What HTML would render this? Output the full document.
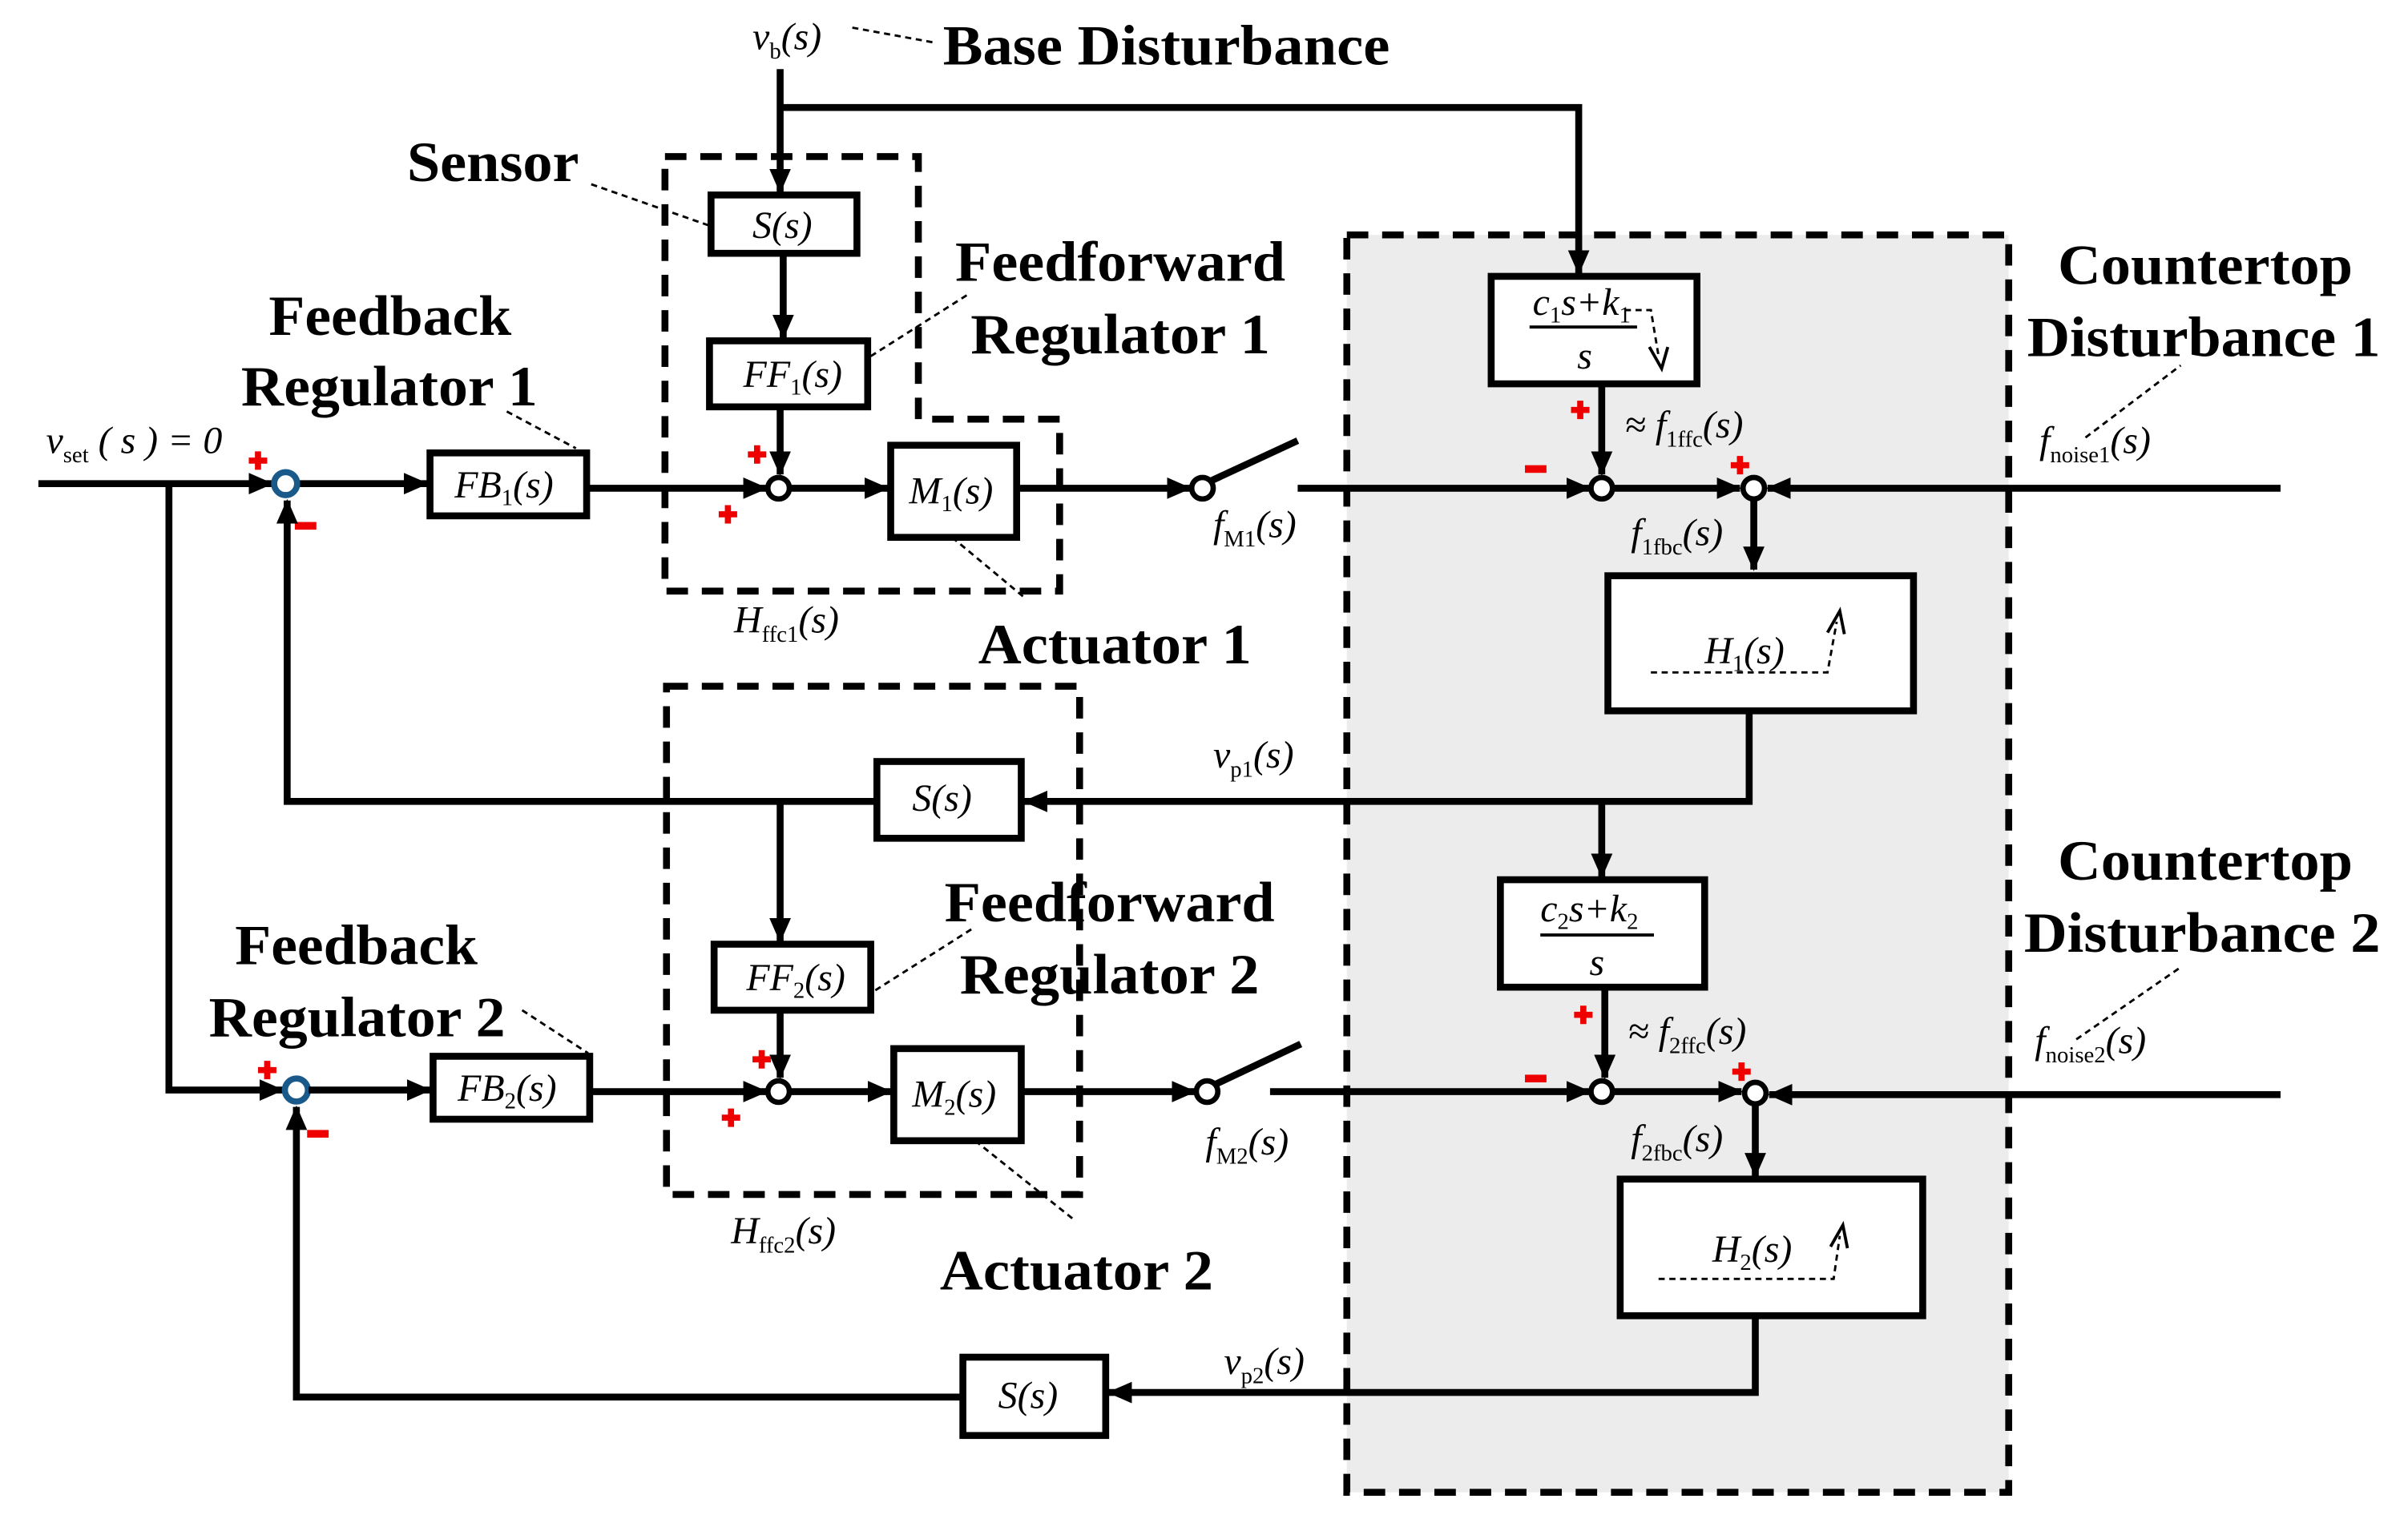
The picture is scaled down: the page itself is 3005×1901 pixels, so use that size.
<!DOCTYPE html>
<html><head><meta charset="utf-8"><style>
html,body{margin:0;padding:0;background:#fff;}
svg{display:block;}
.big{font-family:"Liberation Serif",serif;font-weight:bold;font-size:37px;}
.m{font-family:"Liberation Serif",serif;font-style:italic;font-size:25px;}
.sub{font-size:15px;font-style:normal;}
.ln{stroke:#000;stroke-width:4.5;fill:none;}
.bx{stroke:#000;stroke-width:4.5;fill:#fff;}
.dsh{stroke:#000;stroke-width:4.5;fill:none;stroke-dasharray:14 9;}
.ld{stroke:#000;stroke-width:1.5;fill:none;stroke-dasharray:4 3;}
.sum{stroke:#000;stroke-width:3.5;fill:#fff;}
.r{fill:#e00;}
</style></head><body>
<svg width="3005" height="1901" viewBox="0 0 1568 992" preserveAspectRatio="none" xmlns="http://www.w3.org/2000/svg">
<defs>
<marker id="a" markerUnits="userSpaceOnUse" markerWidth="16" markerHeight="14" refX="15" refY="7" orient="auto">
<path d="M0,0 L16,7 L0,14 Z" fill="#000"/></marker>
</defs>
<rect x="877" y="153" width="431" height="819" fill="#ececec"/>
<rect x="877" y="153" width="431" height="819" class="dsh"/>
<path d="M433,102 L598,102 L598,273 L690,273 L690,385 L433,385 Z" class="dsh"/>
<rect x="434" y="447" width="269" height="331" class="dsh"/>

<text x="490" y="32" class="m">v<tspan class="sub" dy="6">b</tspan><tspan dy="-6">(s)</tspan></text>
<path d="M555,18 L610,28" class="ld"/>
<text x="614" y="42" class="big" textLength="291" lengthAdjust="spacingAndGlyphs">Base Disturbance</text>
<path d="M508,45 L508,125" class="ln" marker-end="url(#a)"/>
<path d="M508,70 L1028,70 L1028,178" class="ln" marker-end="url(#a)"/>
<text x="265" y="118" class="big" textLength="112" lengthAdjust="spacingAndGlyphs">Sensor</text>
<path d="M385,120 L462,147" class="ld"/>
<rect x="463" y="127" width="95" height="38" class="bx"/>
<text x="490" y="155" class="m">S(s)</text>
<path d="M510,165 L510,220" class="ln" marker-end="url(#a)"/>
<rect x="462" y="222" width="103" height="43" class="bx"/>
<text x="484" y="252" class="m">FF<tspan class="sub" dy="5">1</tspan><tspan dy="-5">(s)</tspan></text>
<path d="M567,232 L630,192" class="ld"/>
<text x="622" y="183" class="big" textLength="215" lengthAdjust="spacingAndGlyphs">Feedforward</text>
<text x="632" y="230" class="big" textLength="195" lengthAdjust="spacingAndGlyphs">Regulator 1</text>
<path d="M508,265 L508,309" class="ln" marker-end="url(#a)"/>

<text x="175" y="218" class="big" textLength="158" lengthAdjust="spacingAndGlyphs">Feedback</text>
<text x="157" y="264" class="big" textLength="193" lengthAdjust="spacingAndGlyphs">Regulator 1</text>
<path d="M330,268 L375,292" class="ld"/>
<text x="30" y="295" class="m">v<tspan class="sub" dy="6">set</tspan><tspan dy="-6"> ( s ) = 0</tspan></text>

<path d="M25,315 L177,315" class="ln" marker-end="url(#a)"/>
<path d="M110,315 L110,710 L184,710" class="ln" marker-end="url(#a)"/>
<path d="M194,315 L278,315" class="ln" marker-end="url(#a)"/>
<circle cx="186" cy="315" r="7.5" fill="#fff" stroke="#1a5a8a" stroke-width="4"/>
<path d="M168,294 v12 M162,300 h12" stroke="#e00" stroke-width="4"/>
<rect x="192" y="340" width="14" height="5" class="r"/>
<rect x="280" y="295" width="102" height="41" class="bx"/>
<text x="296" y="324" class="m">FB<tspan class="sub" dy="5">1</tspan><tspan dy="-5">(s)</tspan></text>
<path d="M382,318 L499,318" class="ln" marker-end="url(#a)"/>
<path d="M493,290 v12 M487,296 h12 M474,329 v12 M468,335 h12" stroke="#e00" stroke-width="4"/>
<path d="M515,318 L578,318" class="ln" marker-end="url(#a)"/>
<circle cx="507" cy="318" r="7" class="sum"/>
<rect x="580" y="290" width="82" height="60" class="bx"/>
<text x="592" y="328" class="m">M<tspan class="sub" dy="5">1</tspan><tspan dy="-5">(s)</tspan></text>
<path d="M620,350 L668,390" class="ld"/>
<path d="M662,318 L775,318" class="ln" marker-end="url(#a)"/>
<circle cx="783" cy="318" r="7" class="sum"/>
<path d="M789,313 L845,287" class="ln" stroke-width="5"/>
<text x="790" y="350" class="m">f<tspan class="sub" dy="6">M1</tspan><tspan dy="-6">(s)</tspan></text>
<text x="478" y="412" class="m">H<tspan class="sub" dy="6">ffc1</tspan><tspan dy="-6">(s)</tspan></text>
<text x="637" y="432" class="big" textLength="178" lengthAdjust="spacingAndGlyphs">Actuator 1</text>

<path d="M845,318 L1035,318" class="ln" marker-end="url(#a)"/>
<rect x="993" y="303" width="14" height="5" class="r"/>
<rect x="971" y="180" width="134" height="70" class="bx"/>
<text x="998" y="205" class="m">c<tspan class="sub" dy="5">1</tspan><tspan dy="-5">s+k</tspan><tspan class="sub" dy="5">1</tspan></text>
<path d="M996,213 L1066,213" stroke="#000" stroke-width="2"/>
<text x="1027" y="240" class="m">s</text>
<path d="M1058,202 L1075,202 L1080,232" class="ld" stroke-width="2"/>
<path d="M1074,226 L1082,240 L1086,226" stroke="#000" stroke-width="2" fill="none"/>
<path d="M1043,250 L1043,309" class="ln" marker-end="url(#a)"/>
<path d="M1029,261 v12 M1023,267 h12" stroke="#e00" stroke-width="4"/>
<text x="1058" y="285" class="m">≈ f<tspan class="sub" dy="6">1ffc</tspan><tspan dy="-6">(s)</tspan></text>
<path d="M1051,318 L1133,318" class="ln" marker-end="url(#a)"/>
<circle cx="1043" cy="318" r="7" class="sum"/>
<path d="M1133,297 v12 M1127,303 h12" stroke="#e00" stroke-width="4"/>
<path d="M1485,318 L1151,318" class="ln" marker-end="url(#a)"/>
<circle cx="1142" cy="318" r="7" class="sum"/>
<text x="1328" y="295" class="m">f<tspan class="sub" dy="6">noise1</tspan><tspan dy="-6">(s)</tspan></text>
<path d="M1358,285 L1420,238" class="ld"/>
<text x="1340" y="185" class="big" textLength="192" lengthAdjust="spacingAndGlyphs">Countertop</text>
<text x="1320" y="232" class="big" textLength="230" lengthAdjust="spacingAndGlyphs">Disturbance 1</text>
<path d="M1142,326 L1142,371" class="ln" marker-end="url(#a)"/>
<text x="1062" y="355" class="m">f<tspan class="sub" dy="6">1fbc</tspan><tspan dy="-6">(s)</tspan></text>
<rect x="1047" y="375" width="199" height="88" class="bx"/>
<text x="1110" y="432" class="m">H<tspan class="sub" dy="5">1</tspan><tspan dy="-5">(s)</tspan></text>
<path d="M1075,438 L1190,438 L1196,405" class="ld" stroke-width="2"/>
<path d="M1190,412 L1198,398 L1201,413" stroke="#000" stroke-width="2" fill="none"/>

<path d="M1139,463 L1139,522 L667,522" class="ln" marker-end="url(#a)"/>
<text x="790" y="500" class="m">v<tspan class="sub" dy="6">p1</tspan><tspan dy="-6">(s)</tspan></text>
<rect x="571" y="496" width="94" height="50" class="bx"/>
<text x="594" y="528" class="m">S(s)</text>
<path d="M571,522 L187,522 L187,326" class="ln" marker-end="url(#a)"/>
<path d="M1043,522 L1043,571" class="ln" marker-end="url(#a)"/>
<path d="M508,522 L508,613" class="ln" marker-end="url(#a)"/>

<rect x="465" y="615" width="102" height="43" class="bx"/>
<text x="486" y="645" class="m">FF<tspan class="sub" dy="5">2</tspan><tspan dy="-5">(s)</tspan></text>
<path d="M570,645 L633,605" class="ld"/>
<text x="615" y="600" class="big" textLength="215" lengthAdjust="spacingAndGlyphs">Feedforward</text>
<text x="625" y="647" class="big" textLength="195" lengthAdjust="spacingAndGlyphs">Regulator 2</text>
<text x="153" y="628" class="big" textLength="158" lengthAdjust="spacingAndGlyphs">Feedback</text>
<text x="136" y="675" class="big" textLength="193" lengthAdjust="spacingAndGlyphs">Regulator 2</text>
<path d="M340,658 L383,686" class="ld"/>
<path d="M508,658 L508,702" class="ln" marker-end="url(#a)"/>
<circle cx="193" cy="710" r="7.5" fill="#fff" stroke="#1a5a8a" stroke-width="4"/>
<path d="M174,691 v12 M168,697 h12" stroke="#e00" stroke-width="4"/>
<rect x="200" y="736" width="14" height="5" class="r"/>
<path d="M201,710 L280,710" class="ln" marker-end="url(#a)"/>
<rect x="282" y="688" width="102" height="41" class="bx"/>
<text x="298" y="717" class="m">FB<tspan class="sub" dy="5">2</tspan><tspan dy="-5">(s)</tspan></text>
<path d="M384,711 L499,711" class="ln" marker-end="url(#a)"/>
<path d="M496,684 v12 M490,690 h12 M476,722 v12 M470,728 h12" stroke="#e00" stroke-width="4"/>
<path d="M515,711 L580,711" class="ln" marker-end="url(#a)"/>
<circle cx="507" cy="711" r="7" class="sum"/>
<rect x="582" y="683" width="83" height="60" class="bx"/>
<text x="594" y="721" class="m">M<tspan class="sub" dy="5">2</tspan><tspan dy="-5">(s)</tspan></text>
<path d="M635,743 L700,795" class="ld"/>
<path d="M665,711 L778,711" class="ln" marker-end="url(#a)"/>
<circle cx="786" cy="711" r="7" class="sum"/>
<path d="M792,706 L847,680" class="ln" stroke-width="5"/>
<text x="785" y="752" class="m">f<tspan class="sub" dy="6">M2</tspan><tspan dy="-6">(s)</tspan></text>
<text x="476" y="810" class="m">H<tspan class="sub" dy="6">ffc2</tspan><tspan dy="-6">(s)</tspan></text>
<text x="612" y="840" class="big" textLength="178" lengthAdjust="spacingAndGlyphs">Actuator 2</text>

<path d="M827,711 L1035,711" class="ln" marker-end="url(#a)"/>
<rect x="993" y="700" width="14" height="5" class="r"/>
<rect x="977" y="573" width="133" height="70" class="bx"/>
<text x="1003" y="600" class="m">c<tspan class="sub" dy="5">2</tspan><tspan dy="-5">s+k</tspan><tspan class="sub" dy="5">2</tspan></text>
<path d="M1003,609 L1077,609" stroke="#000" stroke-width="2"/>
<text x="1035" y="635" class="m">s</text>
<path d="M1045,643 L1045,702" class="ln" marker-end="url(#a)"/>
<path d="M1031,655 v12 M1025,661 h12" stroke="#e00" stroke-width="4"/>
<text x="1060" y="680" class="m">≈ f<tspan class="sub" dy="6">2ffc</tspan><tspan dy="-6">(s)</tspan></text>
<path d="M1051,711 L1134,711" class="ln" marker-end="url(#a)"/>
<circle cx="1043" cy="711" r="7" class="sum"/>
<path d="M1134,692 v12 M1128,698 h12" stroke="#e00" stroke-width="4"/>
<path d="M1485,713 L1152,713" class="ln" marker-end="url(#a)"/>
<circle cx="1143" cy="712" r="7" class="sum"/>
<text x="1325" y="686" class="m">f<tspan class="sub" dy="6">noise2</tspan><tspan dy="-6">(s)</tspan></text>
<path d="M1352,677 L1420,630" class="ld"/>
<text x="1340" y="573" class="big" textLength="192" lengthAdjust="spacingAndGlyphs">Countertop</text>
<text x="1318" y="620" class="big" textLength="232" lengthAdjust="spacingAndGlyphs">Disturbance 2</text>
<path d="M1143,720 L1143,766" class="ln" marker-end="url(#a)"/>
<text x="1062" y="750" class="m">f<tspan class="sub" dy="6">2fbc</tspan><tspan dy="-6">(s)</tspan></text>
<rect x="1055" y="768" width="197" height="89" class="bx"/>
<text x="1115" y="822" class="m">H<tspan class="sub" dy="5">2</tspan><tspan dy="-5">(s)</tspan></text>
<path d="M1080,833 L1194,833 L1198,805" class="ld" stroke-width="2"/>
<path d="M1192,812 L1200,798 L1203,813" stroke="#000" stroke-width="2" fill="none"/>

<path d="M1143,857 L1143,907 L722,907" class="ln" marker-end="url(#a)"/>
<text x="797" y="895" class="m">v<tspan class="sub" dy="6">p2</tspan><tspan dy="-6">(s)</tspan></text>
<rect x="627" y="884" width="93" height="51" class="bx"/>
<text x="650" y="917" class="m">S(s)</text>
<path d="M627,910 L193,910 L193,721" class="ln" marker-end="url(#a)"/>
</svg>
</body></html>
